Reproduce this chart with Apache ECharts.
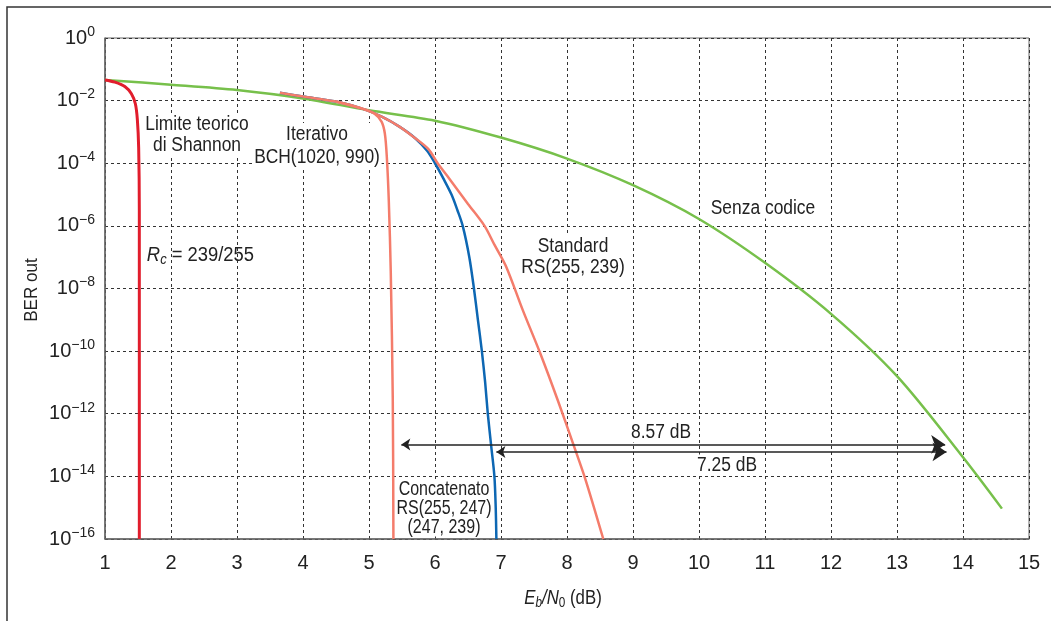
<!DOCTYPE html>
<html>
<head>
<meta charset="utf-8">
<script src="https://cdn.jsdelivr.net/npm/echarts@6/dist/echarts.min.js"></script>
<style>
  html, body { margin: 0; padding: 0; background: #fff; }
  #chart { width: 1051px; height: 621px; }
</style>
</head>
<body>
<div id="chart"></div>
<script>
// BER curves, values (x in dB, BER as exponent of 10)
var senzaX   = [1, 2, 3, 4, 5, 6, 7, 8, 9, 10, 11, 12, 13, 14, 14.59];
var senzaExp = [-1.34, -1.49, -1.66, -1.93, -2.31, -2.64, -3.18, -3.85, -4.7, -5.78, -7.18, -8.81, -10.8, -13.39, -15.03];

var iterX   = [3.65, 4.0, 4.5, 4.93, 5.2, 5.46, 5.7, 5.88, 6.0, 6.13, 6.25, 6.34, 6.42, 6.52, 6.59, 6.65, 6.71, 6.76, 6.8, 6.85, 6.9, 6.92, 6.93];
var iterExp = [-1.75, -1.87, -2.03, -2.28, -2.52, -2.83, -3.2, -3.6, -4.0, -4.5, -5.0, -5.5, -6.0, -7.0, -8.0, -9.0, -10.0, -11.0, -12.0, -13.0, -14.0, -15.0, -16];

var stdX   = [3.65, 4.0, 4.5, 4.93, 5.2, 5.46, 5.7, 5.9, 6.04, 6.22, 6.5, 6.75, 6.9, 7.08, 7.33, 7.6, 7.86, 8.1, 8.28, 8.55];
var stdExp = [-1.75, -1.87, -2.03, -2.28, -2.52, -2.83, -3.2, -3.55, -4.0, -4.5, -5.3, -6.0, -6.6, -7.31, -8.69, -10.1, -11.57, -13.0, -14.1, -16];

var concX   = [4.5, 4.93, 5.08, 5.19, 5.24, 5.27, 5.3, 5.33, 5.36, 5.37];
var concExp = [-2.03, -2.28, -2.41, -2.67, -3.05, -3.8, -5.2, -7.5, -11.5, -16];

var shannonX   = [1.0, 1.15, 1.3, 1.4, 1.46, 1.49, 1.51, 1.52, 1.52];
var shannonExp = [-1.34, -1.41, -1.55, -1.78, -2.1, -2.6, -3.5, -5.5, -16];

// gain arrows: [x start, x end, BER exponent]
var arrow857 = [5.49, 13.73, -12.98];
var arrow725 = [6.93, 13.75, -13.22];

var font = "'Liberation Sans Narrow', 'Arial Narrow', 'Liberation Sans', sans-serif";

function pts(xs, es) {
  var out = [];
  for (var i = 0; i < xs.length; i++) {
    out.push([xs[i], Math.pow(10, es[i])]);
  }
  return out;
}

function curva(name, xs, es, color, w) {
  return {
    name: name,
    type: 'line',
    data: pts(xs, es),
    showSymbol: false,
    smooth: 0.3,
    lineStyle: { color: color, width: w },
    z: 3
  };
}

function freccia(a) {
  return {
    type: 'lines',
    coordinateSystem: 'cartesian2d',
    symbol: ['arrow', 'arrow'],
    symbolSize: [9, 14],
    lineStyle: { color: '#222', width: 1.5, opacity: 1 },
    data: [{ coords: [[a[0], Math.pow(10, a[2])], [a[1], Math.pow(10, a[2])]] }],
    z: 4
  };
}

// labels sit above the grid lines but under the curves
function etichetta(x, y, text, opt) {
  opt = opt || {};
  return {
    type: 'text',
    x: x, y: y, z: 1,
    scaleX: opt.sx || 0.87,
    style: {
      text: text,
      font: '20px ' + font,
      fill: '#222',
      align: opt.align || 'center',
      verticalAlign: 'middle',
      lineHeight: opt.lh || 21,
      backgroundColor: opt.bg === false ? null : '#fff',
      padding: [0, 2, 0, 2],
      rich: opt.rich
    }
  };
}

var chart = echarts.init(document.getElementById('chart'));

chart.setOption({
  animation: false,
  grid: {
    left: 105, right: 22, top: 38, bottom: 82,
    show: true, borderColor: '#666', borderWidth: 1
  },
  xAxis: {
    type: 'value',
    min: 1, max: 15, interval: 1,
    axisLine: { lineStyle: { color: '#666', width: 1.5 } },
    axisTick: { show: false },
    axisLabel: { fontFamily: font, fontSize: 20, color: '#222', margin: 14 },
    splitLine: { lineStyle: { color: '#333', type: [3, 3], width: 1 } }
  },
  yAxis: {
    type: 'log', logBase: 10,
    min: 1e-16, max: 1, interval: 2,
    axisLine: { show: true, lineStyle: { color: '#666', width: 1.5 } },
    axisTick: { show: false },
    axisLabel: {
      margin: 10,
      formatter: function (v) {
        var e = Math.round(Math.log10(v));
        return '{b|10}{s|' + (e < 0 ? '\u2212' + (-e) : e) + '}';
      },
      rich: {
        b: { fontFamily: font, fontSize: 20, color: '#222', lineHeight: 26 },
        s: { fontFamily: font, fontSize: 14, color: '#222', lineHeight: 14, verticalAlign: 'top' }
      }
    },
    splitLine: { lineStyle: { color: '#333', type: [3, 3], width: 1 } }
  },
  series: [
    curva('Senza codice', senzaX, senzaExp, '#77c04b', 2.5),
    curva('Iterativo BCH(1020, 990)', iterX, iterExp, '#0d67b3', 2.5),
    curva('Standard RS(255, 239)', stdX, stdExp, '#f47c6b', 2.5),
    curva('Concatenato RS(255, 247)(247, 239)', concX, concExp, '#f47c6b', 2.5),
    curva('Limite teorico di Shannon', shannonX, shannonExp, '#e11d2c', 3),
    freccia(arrow857),
    freccia(arrow725)
  ],
  graphic: [
    { type: 'polyline', shape: { points: [[7, 621], [7, 7], [1051, 7]] },
      style: { stroke: '#333', lineWidth: 1.5, fill: null }, z: 1 },
    etichetta(197, 135, 'Limite teorico\ndi Shannon'),
    etichetta(317, 146, 'Iterativo\nBCH(1020, 990)', { lh: 23 }),
    etichetta(573, 257, 'Standard\nRS(255, 239)'),
    etichetta(763, 208, 'Senza codice'),
    etichetta(661, 432, '8.57 dB'),
    etichetta(727, 465, '7.25 dB'),
    etichetta(444, 508, 'Concatenato\nRS(255, 247)\n(247, 239)', { lh: 19, sx: 0.8 }),
    etichetta(145, 255, '{i|R}{sub|c}{n| = 239/255}', {
      align: 'left', bg: false, sx: 0.92,
      rich: {
        i: { font: 'italic 20px ' + font, fill: '#222', lineHeight: 24 },
        sub: { font: 'italic 14px ' + font, fill: '#222', lineHeight: 14, verticalAlign: 'bottom' },
        n: { font: '20px ' + font, fill: '#222', lineHeight: 24 }
      }
    }),
    etichetta(563, 598, '{i|E}{sub|b}{i|/N}{s0|0}{n| (dB)}', {
      bg: false, sx: 0.84,
      rich: {
        i: { font: 'italic 20px ' + font, fill: '#222', lineHeight: 24 },
        sub: { font: 'italic 14px ' + font, fill: '#222', lineHeight: 14, verticalAlign: 'bottom' },
        s0: { font: '14px ' + font, fill: '#222', lineHeight: 14, verticalAlign: 'bottom' },
        n: { font: '20px ' + font, fill: '#222', lineHeight: 24 }
      }
    }),
    {
      type: 'text', x: 32, y: 290, rotation: Math.PI / 2, scaleX: 0.9,
      style: { text: 'BER out', font: '19px ' + font, fill: '#222', align: 'center', verticalAlign: 'middle' }
    }
  ]
});
</script>
</body>
</html>
